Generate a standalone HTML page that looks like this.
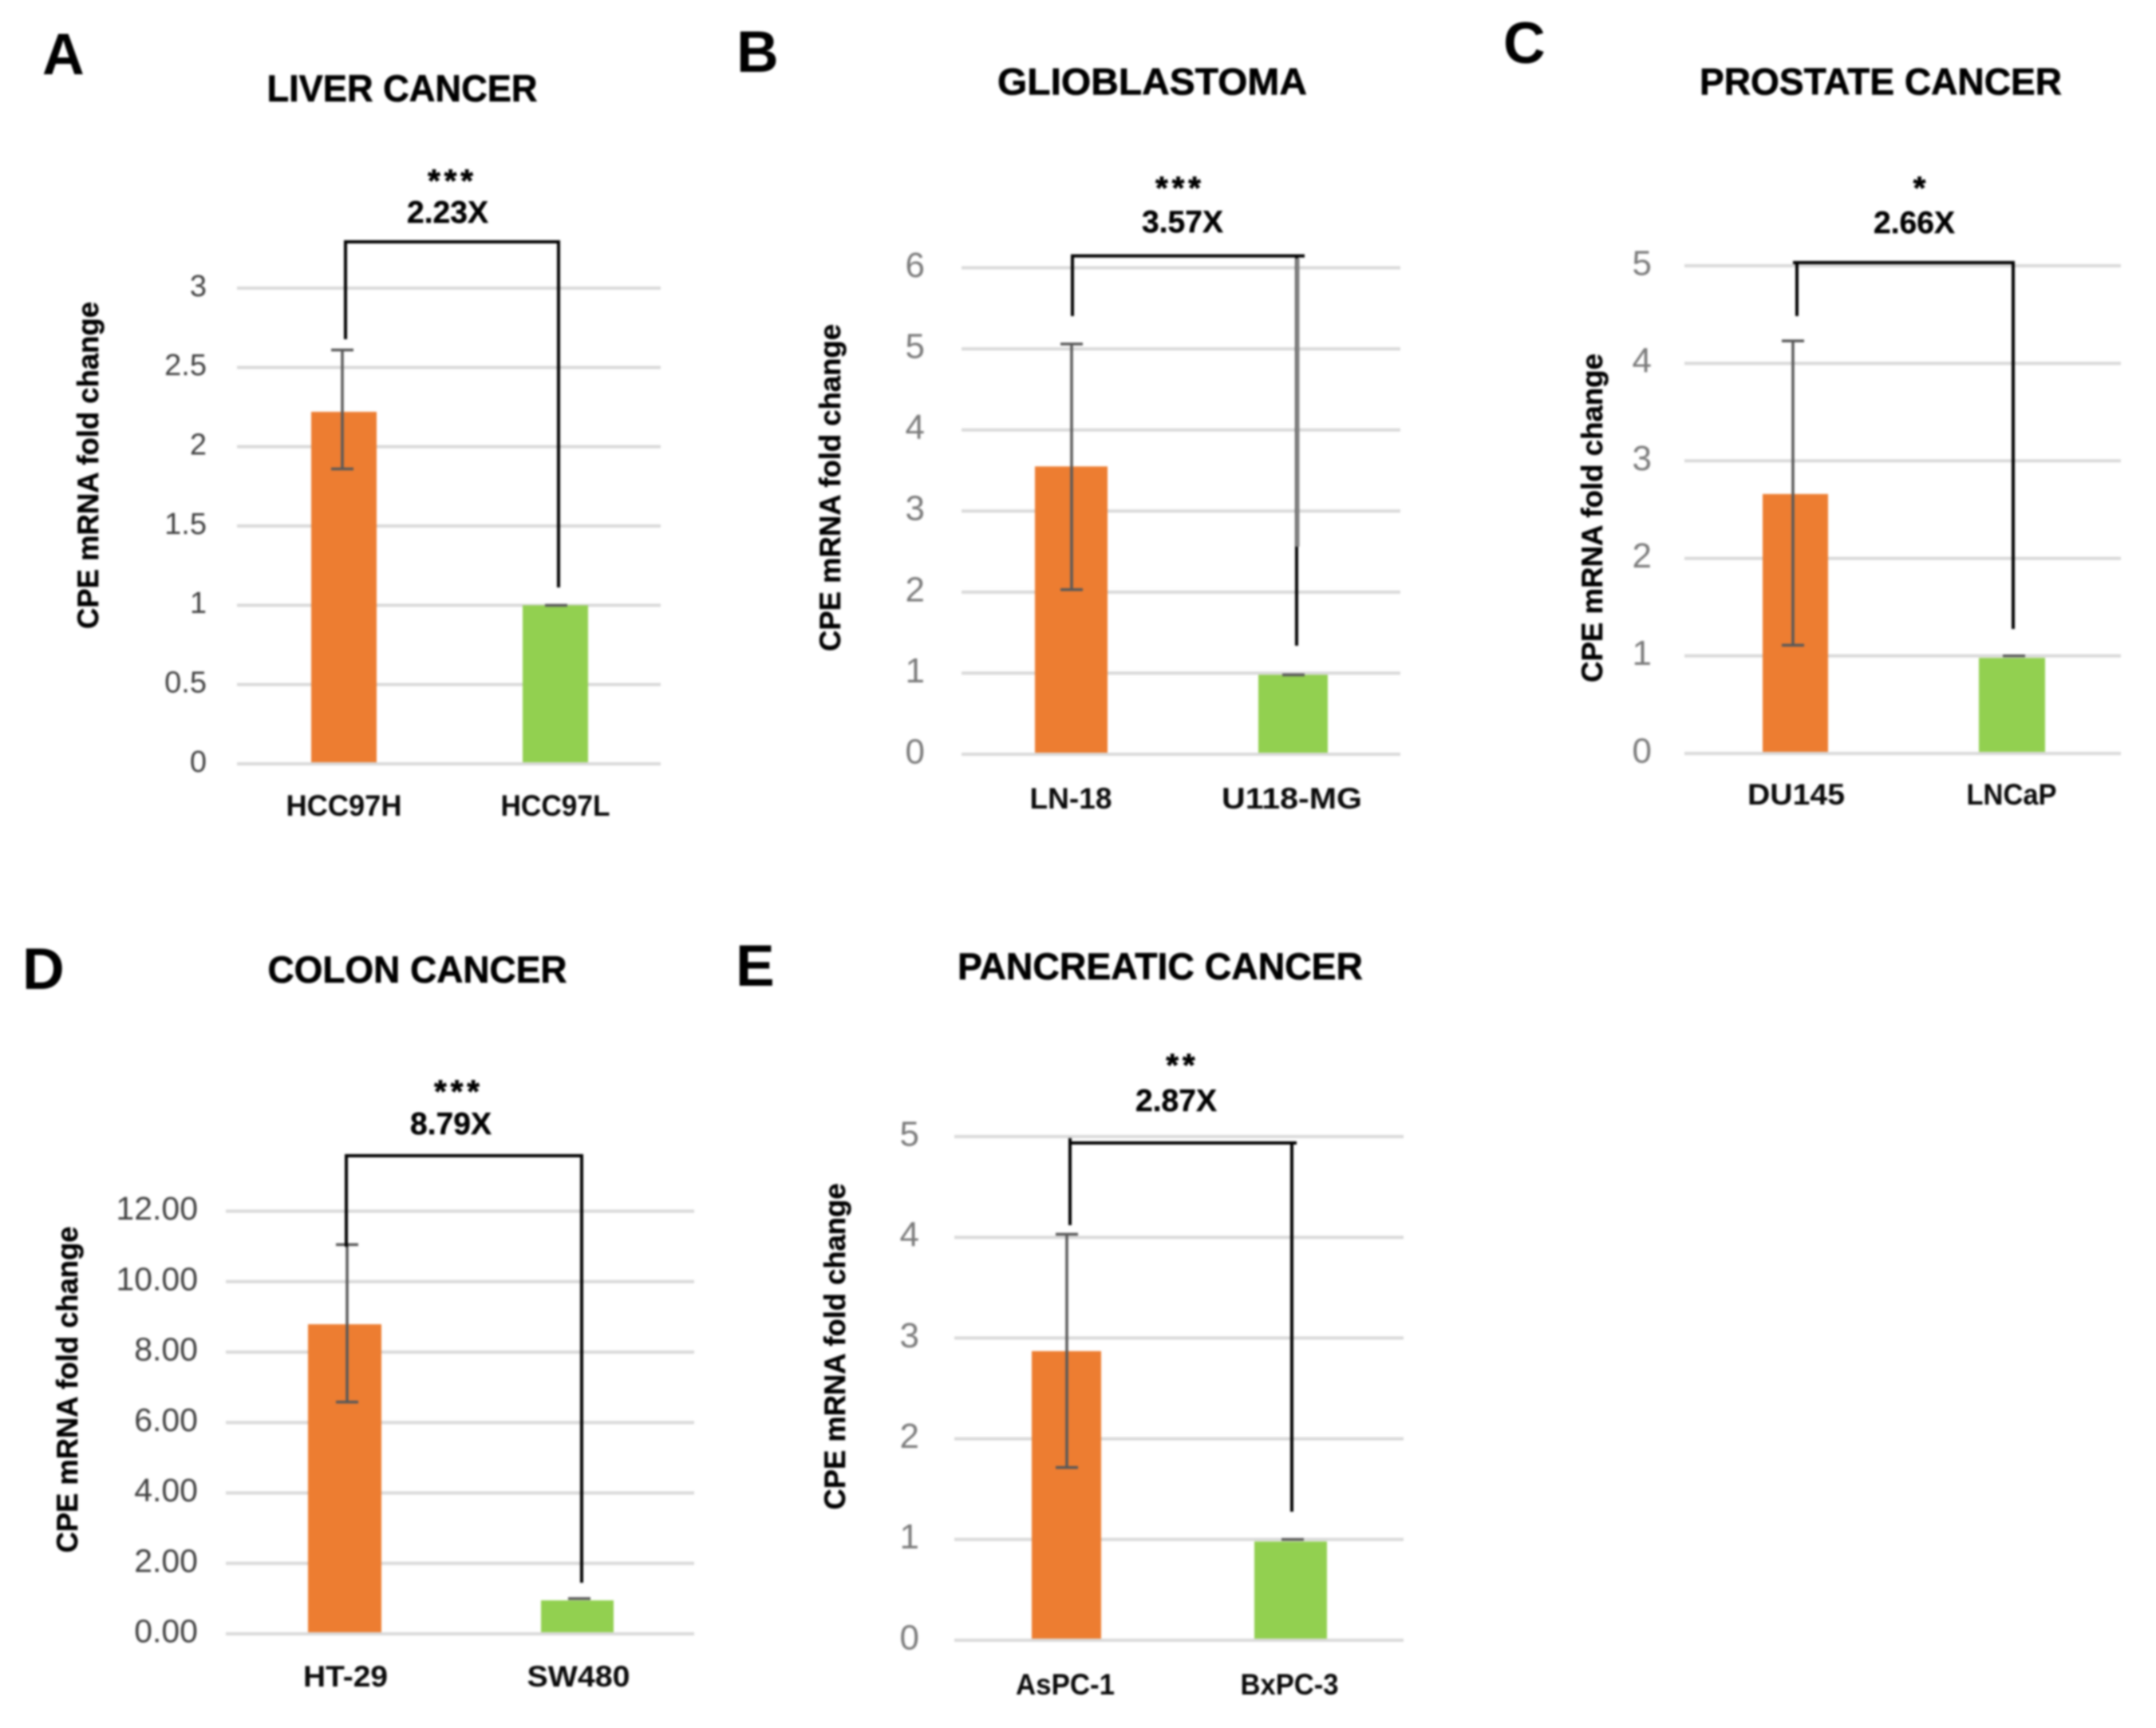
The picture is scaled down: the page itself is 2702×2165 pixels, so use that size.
<!DOCTYPE html>
<html lang="en">
<head>
<meta charset="utf-8">
<title>CPE mRNA fold change by cancer type</title>
<style>
  html, body { margin: 0; padding: 0; background: #fff; width: 2702px; height: 2165px; overflow: hidden; }
  svg { display: block; }
  text { font-family: "Liberation Sans", sans-serif; }
  #figure-root { filter: blur(1.4px); }
</style>
</head>
<body>
<svg id="figure" xmlns="http://www.w3.org/2000/svg" width="2702" height="2165" viewBox="0 0 2702 2165">
  <rect x="0" y="0" width="2702" height="2165" fill="#ffffff"/>
  <g id="figure-root"></g>
</svg>
<script>
// ---- Chart data ----
const categoriesA = ["HCC97H", "HCC97L"];
const valuesA = [2.22, 1.0];
const errLowA = [1.86, 1.0];
const errHighA = [2.61, 1.0];
const tickLabelsA = ["0", "0.5", "1", "1.5", "2", "2.5", "3"];
const tickValuesA = [0, 0.5, 1, 1.5, 2, 2.5, 3];

const categoriesB = ["LN-18", "U118-MG"];
const valuesB = [3.55, 0.98];
const errLowB = [2.03, 0.98];
const errHighB = [5.06, 0.98];
const tickLabelsB = ["0", "1", "2", "3", "4", "5", "6"];
const tickValuesB = [0, 1, 2, 3, 4, 5, 6];

const categoriesC = ["DU145", "LNCaP"];
const valuesC = [2.66, 0.98];
const errLowC = [1.11, 1.0];
const errHighC = [4.23, 1.0];
const tickLabelsC = ["0", "1", "2", "3", "4", "5"];
const tickValuesC = [0, 1, 2, 3, 4, 5];

const categoriesD = ["HT-29", "SW480"];
const valuesD = [8.79, 0.95];
const errLowD = [6.58, 1.0];
const errHighD = [11.05, 1.0];
const tickLabelsD = ["0.00", "2.00", "4.00", "6.00", "8.00", "10.00", "12.00"];
const tickValuesD = [0, 2, 4, 6, 8, 10, 12];

const categoriesE = ["AsPC-1", "BxPC-3"];
const valuesE = [2.87, 0.98];
const errLowE = [1.715, 1.0];
const errHighE = [4.03, 1.0];
const tickLabelsE = ["0", "1", "2", "3", "4", "5"];
const tickValuesE = [0, 1, 2, 3, 4, 5];

const NS = "http://www.w3.org/2000/svg";
const root = document.getElementById("figure-root");

function mk(parent, tag, attrs, content) {
  const el = document.createElementNS(NS, tag);
  for (const k in attrs) el.setAttribute(k, attrs[k]);
  if (content !== undefined) el.textContent = content;
  parent.appendChild(el);
  return el;
}

function drawPanel(p) {
  const g = mk(root, "g", {});
  
  

  // axis functions
  const maxTick = p.tickValues[p.tickValues.length - 1];
  const yScale = v => p.y0 - v * (p.y0 - p.yTop) / maxTick;

  // panel letter
  const letter = mk(g, "text", { x: p.letterX, y: p.letterY, "font-size": 73, "font-weight": "bold", fill: "#000" }, p.letter);
  
  

  // title
  const title = mk(g, "text", { x: p.titleX, y: p.titleY, "font-size": 47, "font-weight": "bold", fill: "#000", stroke: "#000", "stroke-width": 0.6, "text-anchor": "middle", textLength: p.titleW, lengthAdjust: "spacingAndGlyphs" }, p.title);
  
  

  // y axis title
  const yTitle = mk(g, "text", { transform: "translate(" + p.yTitleX + "," + p.yTitleY + ") rotate(-90)", "font-size": 37, "font-weight": "bold", fill: "#000", stroke: "#000", "stroke-width": 0.4, "text-anchor": "middle", textLength: p.yTitleLen, lengthAdjust: "spacingAndGlyphs" }, "CPE mRNA fold change");
  
  

  // gridlines and tick labels
  p.tickValues.forEach((t, i) => {
    const line = mk(g, "line", { x1: p.gridX0, x2: p.gridX1, y1: yScale(t), y2: yScale(t), stroke: "#d9d9d9", "stroke-width": 4 });
    
    
    const label = mk(g, "text", { x: p.tickX, y: yScale(t) + p.tickSize * 0.26, "font-size": p.tickSize, fill: p.tickColor, "text-anchor": "end" }, p.tickLabels[i]);
    
    
  });

  // bars, error bars, category labels
  const colors = ["#ED7D31", "#92D050"];
  p.categories.forEach((cat, i) => {
    const top = yScale(p.values[i]);
    const bar = mk(g, "rect", { x: p.barX[i], y: top, width: p.barW[i], height: p.y0 - 2 - top, fill: colors[i] });
    
    

    const ex = p.errX[i];
    const yHi = yScale(p.errHigh[i]);
    const yLo = yScale(p.errLow[i]);
    const err = mk(g, "path", { d: "M" + ex + " " + yHi + "V" + yLo + "M" + (ex - 14) + " " + yHi + "H" + (ex + 14) + "M" + (ex - 14) + " " + yLo + "H" + (ex + 14), stroke: "#595959", "stroke-width": 3.5, fill: "none" });
    
    

    const catLabel = mk(g, "text", { x: p.catX[i], y: p.catY, "font-size": 37, "font-weight": "bold", fill: "#0a0a0a", "text-anchor": "middle", textLength: p.catW[i], lengthAdjust: "spacingAndGlyphs" }, cat);
    
    
  });

  // significance bracket
  const b = p.bracket;
  const bracket = mk(g, "path", { d: "M" + b.lx + " " + b.lEnd + "V" + b.lTop + "M" + b.hx0 + " " + b.y + "H" + b.hx1 + "M" + b.rx + " " + b.y + "V" + b.rEnd, stroke: "#000", "stroke-width": 4, fill: "none" });
  
  
  if (b.grayEnd) {
    const gray = mk(g, "line", { x1: b.rx + 1, x2: b.rx + 1, y1: b.y + 3, y2: b.grayEnd, stroke: "#808080", "stroke-width": 5 });
    
    
  }

  // significance annotation
  const stars = mk(g, "text", { x: p.starX, y: p.starY + 22, "font-size": 40, "font-weight": "bold", fill: "#000", stroke: "#000", "stroke-width": 0.8, "text-anchor": "middle", "letter-spacing": 5 }, p.stars);
  
  
  const fold = mk(g, "text", { x: p.foldX, y: p.foldY, "font-size": 39, "font-weight": "bold", fill: "#000", stroke: "#000", "stroke-width": 0.4, "text-anchor": "middle", textLength: 102, lengthAdjust: "spacingAndGlyphs" }, p.fold);
  
  
}

drawPanel({
  letter: "A", letterX: 53, letterY: 93,
  title: "LIVER CANCER", titleX: 504, titleY: 127, titleW: 339,
  yTitleX: 123, yTitleY: 583, yTitleLen: 410,
  gridX0: 297, gridX1: 828, y0: 957, yTop: 361, tickX: 259, tickSize: 38, tickColor: "#404040",
  tickValues: tickValuesA, tickLabels: tickLabelsA,
  categories: categoriesA, values: valuesA, errLow: errLowA, errHigh: errHighA,
  barX: [390, 655], barW: [82, 82], errX: [429, 697],
  catX: [431, 696], catY: 1022, catW: [145, 137],
  bracket: { lx: 433, lTop: 303, lEnd: 425, hx0: 431, hx1: 702, y: 303, rx: 700, rEnd: 736 },
  stars: "***", starX: 567, starY: 218, fold: "2.23X", foldX: 561, foldY: 279
});

drawPanel({
  letter: "B", letterX: 923, letterY: 90,
  title: "GLIOBLASTOMA", titleX: 1444, titleY: 118.6, titleW: 388,
  yTitleX: 1053, yTitleY: 611, yTitleLen: 410,
  gridX0: 1205, gridX1: 1755, y0: 945, yTop: 335.5, tickX: 1159, tickSize: 44, tickColor: "#7a7a7a",
  tickValues: tickValuesB, tickLabels: tickLabelsB,
  categories: categoriesB, values: valuesB, errLow: errLowB, errHigh: errHighB,
  barX: [1297, 1577], barW: [91, 87], errX: [1343, 1621],
  catX: [1342, 1619], catY: 1013, catW: [103, 176],
  bracket: { lx: 1344, lTop: 320.6, lEnd: 396, hx0: 1342, hx1: 1635, y: 320.6, rx: 1625, rEnd: 809, grayEnd: 685 },
  stars: "***", starX: 1479, starY: 227, fold: "3.57X", foldX: 1482, foldY: 291
});

drawPanel({
  letter: "C", letterX: 1884, letterY: 79,
  title: "PROSTATE CANCER", titleX: 2357, titleY: 118.6, titleW: 454,
  yTitleX: 2008, yTitleY: 649, yTitleLen: 412,
  gridX0: 2111, gridX1: 2658, y0: 944, yTop: 333, tickX: 2070, tickSize: 44, tickColor: "#7a7a7a",
  tickValues: tickValuesC, tickLabels: tickLabelsC,
  categories: categoriesC, values: valuesC, errLow: errLowC, errHigh: errHighC,
  barX: [2209, 2480], barW: [82, 83], errX: [2247, 2524],
  catX: [2251, 2521], catY: 1008, catW: [122, 113],
  bracket: { lx: 2252, lTop: 329, lEnd: 396, hx0: 2247, hx1: 2525, y: 329, rx: 2523, rEnd: 788 },
  stars: "*", starX: 2408, starY: 227, fold: "2.66X", foldX: 2399, foldY: 292
});

drawPanel({
  letter: "D", letterX: 28, letterY: 1239,
  title: "COLON CANCER", titleX: 523, titleY: 1231, titleW: 375,
  yTitleX: 97, yTitleY: 1741, yTitleLen: 409,
  gridX0: 283, gridX1: 870, y0: 2047, yTop: 1517.5, tickX: 248, tickSize: 41, tickColor: "#404040",
  tickValues: tickValuesD, tickLabels: tickLabelsD,
  categories: categoriesD, values: valuesD, errLow: errLowD, errHigh: errHighD,
  barX: [386, 678], barW: [92, 91], errX: [435, 726],
  catX: [433, 725], catY: 2113, catW: [106, 129],
  bracket: { lx: 434, lTop: 1448, lEnd: 1562, hx0: 432, hx1: 731, y: 1448, rx: 729, rEnd: 1983 },
  stars: "***", starX: 575, starY: 1359, fold: "8.79X", foldX: 565, foldY: 1421
});

drawPanel({
  letter: "E", letterX: 922, letterY: 1235,
  title: "PANCREATIC CANCER", titleX: 1454, titleY: 1227, titleW: 508,
  yTitleX: 1059, yTitleY: 1687, yTitleLen: 409,
  gridX0: 1196, gridX1: 1759, y0: 2055, yTop: 1424, tickX: 1152, tickSize: 44, tickColor: "#7a7a7a",
  tickValues: tickValuesE, tickLabels: tickLabelsE,
  categories: categoriesE, values: valuesE, errLow: errLowE, errHigh: errHighE,
  barX: [1293, 1572], barW: [87, 91], errX: [1337, 1620],
  catX: [1335, 1616], catY: 2123, catW: [124, 123],
  bracket: { lx: 1341, lTop: 1426, lEnd: 1535, hx0: 1339, hx1: 1625, y: 1432, rx: 1619, rEnd: 1894 },
  stars: "**", starX: 1482, starY: 1326, fold: "2.87X", foldX: 1474, foldY: 1392
});
</script>
</body>
</html>
